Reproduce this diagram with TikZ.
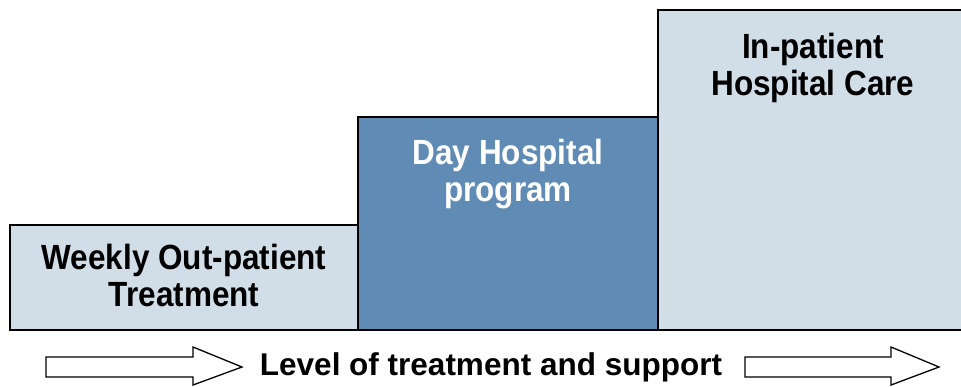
\documentclass[tikz,border=0pt]{standalone}
\usepackage{fontspec}
\setmainfont{Liberation Sans}
\newfontfamily\boxfont{Liberation Sans}[FakeStretch=0.9]
\usetikzlibrary{calc}
\definecolor{paleblue}{RGB}{209,221,231}
\definecolor{dayblue}{RGB}{96,139,181}
\tikzset{
  boxtext/.style={anchor=base, align=center, inner sep=0pt,
    font=\boxfont\bfseries\fontsize{35}{37}\selectfont},
  blockarrow/.style={draw=black, fill=white, line width=1.3pt, line join=miter},
}

\begin{document}
\begin{tikzpicture}[x=1pt, y=-1pt]
		%%%%% START %%%%%
		\clip (0, 0) rectangle (961, 386);
		
		% in-patient (runs off the right side)
		\fill[paleblue] (658, 10) rectangle (970, 330);
		\draw[line width=2.2pt] (658, 330) -- (658, 10) -- (970, 10);
		
		% day hospital
		\fill[dayblue] (358, 117) rectangle (658, 330);
		\draw[line width=2.2pt] (358, 117) rectangle (658, 330);
		
		% weekly out-patient
		\fill[paleblue] (10, 225) rectangle (358, 330);
		\draw[line width=2.2pt] (10, 225) rectangle (358, 330);
		
		\draw[line width=2.2pt] (10, 330) -- (970, 330);
		
		% base anchor sits on the last line
		\node[boxtext] (weekly) at (184, 306) {Weekly Out-patient\\Treatment};
		\node[boxtext, text=white] (day) at (508, 201) {Day Hospital\\program};
		\node[boxtext] (inpatient) at (813, 95) {In-patient\\Hospital Care};
		
		% arrows and axis label
		\draw[blockarrow] (46, 357) -- (193, 357) -- (193, 347) -- (242, 367)
			-- (193, 385) -- (193, 377) -- (46, 377) -- cycle;
		\draw[blockarrow] (745, 357) -- (891, 357) -- (891, 347) -- (939, 367)
			-- (891, 385) -- (891, 377) -- (745, 377) -- cycle;
		
		\node[anchor=base, inner sep=0pt, font=\bfseries\fontsize{31.5}{36}\selectfont]
			(level) at (491, 375) {Level of treatment and support};
		
		%%%%% END %%%%%
	\end{tikzpicture}
\end{document}
